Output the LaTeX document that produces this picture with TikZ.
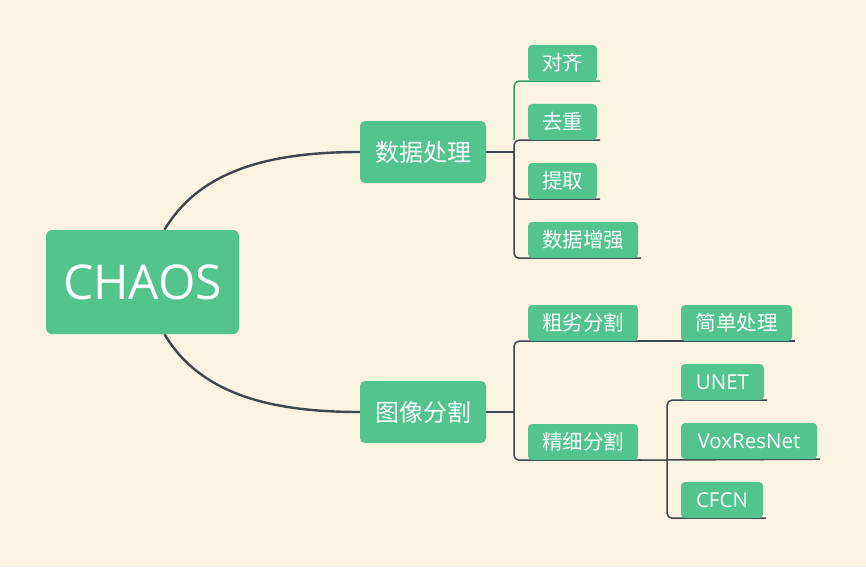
\documentclass[tikz,border=0pt]{standalone}
\usepackage{fontspec}
\setmainfont{Open Sans}
\newfontfamily\cjk{Noto Sans CJK SC}
\definecolor{bgc}{HTML}{FAF4E1}
\definecolor{nodeg}{HTML}{52C48C}
\definecolor{linec}{HTML}{3E474D}
\definecolor{selg}{HTML}{2FA35F}
\pgfdeclarelayer{bg}
\pgfsetlayers{bg,main}
\tikzset{
  box/.style={fill=nodeg, text=white, rounded corners=4pt, inner sep=0pt, anchor=center},
  rootbox/.style={box, rounded corners=6pt, font=\fontsize{48}{48}\selectfont},
  midbox/.style={box, rounded corners=5pt, font=\cjk\fontsize{24}{24}\selectfont},
  leafbox/.style={box, minimum height=36pt, font=\cjk\fontsize{20.5}{20.5}\selectfont},
  leaflat/.style={box, minimum height=36pt, font=\fontsize{20.5}{20.5}\selectfont},
  curve/.style={draw=linec, line width=2.4pt},
  conn/.style={draw=linec, line width=1.5pt, rounded corners=5pt},
}
\begin{document}
\begin{tikzpicture}[x=1pt,y=-1pt]
\useasboundingbox (0,0) rectangle (866,567);
% nodes
\node[rootbox, minimum width=193pt, minimum height=104pt] (root) at (142.5,282) {CHAOS};
\node[midbox, minimum width=126pt, minimum height=62pt] (dp) at (423,152) {数据处理};
\node[midbox, minimum width=126pt, minimum height=62pt] (seg) at (423,412) {图像分割};
\node[leafbox, minimum width=69pt] (dq) at (562.5,63) {对齐};
\node[leafbox, minimum width=69pt] (qc) at (562.5,122) {去重};
\node[leafbox, minimum width=69pt] (tq) at (562.5,181) {提取};
\node[leafbox, minimum width=110pt] (zq) at (583,240) {数据增强};
\node[leafbox, minimum width=110pt] (cl) at (583,323) {粗劣分割};
\node[leafbox, minimum width=110pt] (jx) at (583,442) {精细分割};
\node[leafbox, minimum width=111pt] (jd) at (736.5,323) {简单处理};
\node[leaflat, minimum width=83pt] (unet) at (722.5,382) {UNET};
\node[leaflat, minimum width=136pt] (vox) at (749,441) {VoxResNet};
\node[leaflat, minimum width=82pt] (cfcn) at (722,500) {CFCN};
\coordinate (j1) at (514,152);
\coordinate (j2) at (514,412);
\coordinate (j3) at (667,460);
\begin{pgfonlayer}{bg}
\fill[bgc] (0,0) rectangle (866,567);
% root curves
\draw[curve] (root.north) ++(22,0) coordinate (rt) .. controls (200,170) and (270,152) .. (dp.west);
\draw[curve] (root.south) ++(22,0) coordinate (rb) .. controls (200,394) and (270,412) .. (seg.west);
% group 1
\draw[conn] (dp.east) -- (j1);
\draw[conn, draw=selg] (514,140) |- ([xshift=3pt]dq.south east);
\draw[conn] (j1) |- ([xshift=3pt]qc.south east);
\draw[conn] (j1) |- ([xshift=3pt]tq.south east);
\draw[conn] (j1) |- ([xshift=3pt]zq.south east);
% group 2
\draw[conn] (seg.east) -- (j2);
\draw[conn] (j2) |- ([xshift=3pt]cl.south east);
\draw[conn] (j2) |- ([xshift=3pt]jx.south east);
\draw[conn] (cl.south east) -- ([xshift=3pt]jd.south east);
\draw[conn] (jx.south east) -- (j3);
\draw[conn] (j3) |- ([xshift=3pt]unet.south east);
\draw[conn] (j3) -- ([xshift=3pt]vox.south east);
\draw[conn] (j3) |- ([xshift=3pt]cfcn.south east);
\end{pgfonlayer}
\end{tikzpicture}
\end{document}
